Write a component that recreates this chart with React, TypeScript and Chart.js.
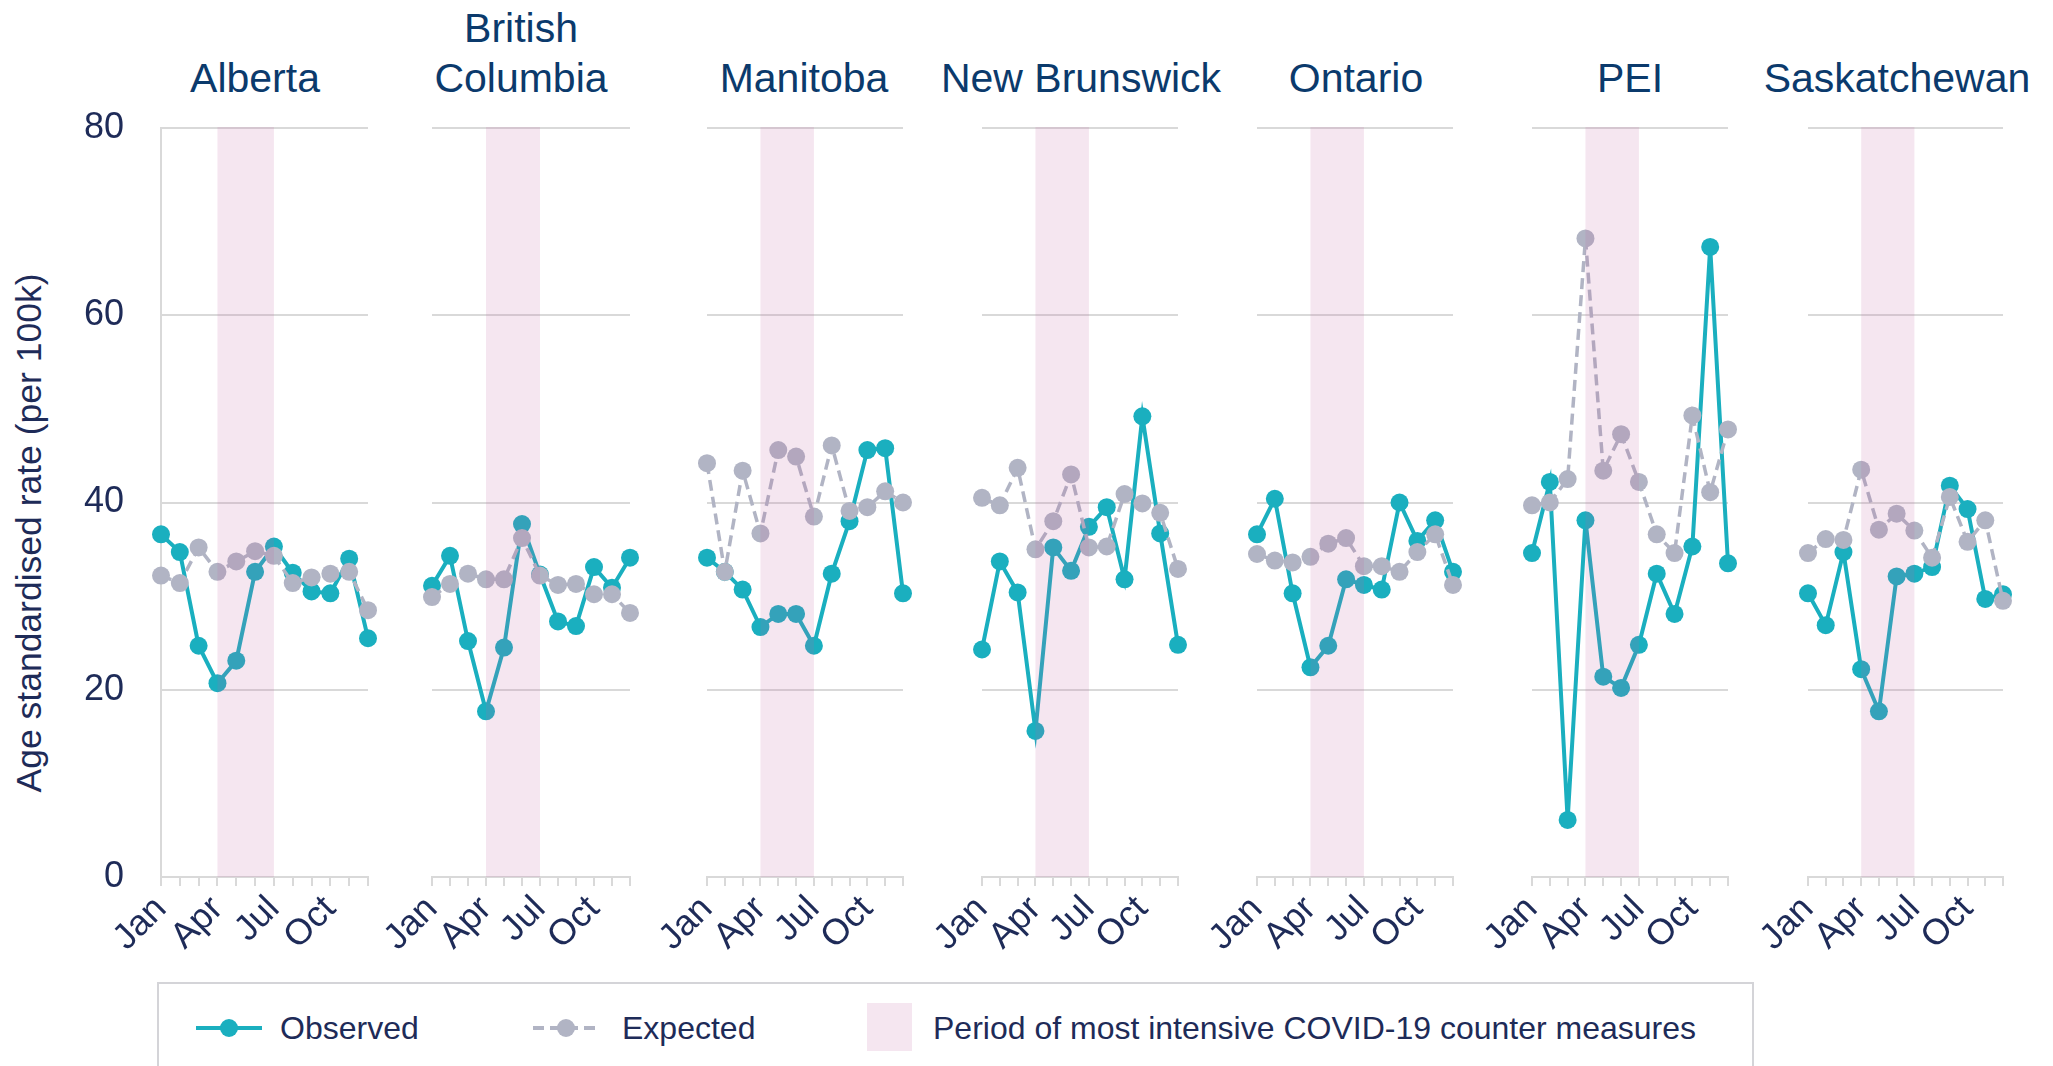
import React, { useEffect, useRef } from "react";
import { Chart, registerables } from "chart.js";

Chart.register(...registerables);

const MONTHS = ["Jan", "Feb", "Mar", "Apr", "May", "Jun", "Jul", "Aug", "Sep", "Oct", "Nov", "Dec"];
const TICK_LABELS = ["Jan", "Apr", "Jul", "Oct"];
const BAND_MONTHS = ["Apr", "Jul"];
const Y_MIN = 0;
const Y_MAX = 80;
const Y_STEP = 20;

const PROVINCES = ["Alberta", "British Columbia", "Manitoba", "New Brunswick", "Ontario", "PEI", "Saskatchewan"];

const albertaObserved = [36.6, 34.7, 24.7, 20.7, 23.1, 32.6, 35.3, 32.5, 30.5, 30.3, 34.0, 25.5];
const albertaExpected = [32.2, 31.4, 35.2, 32.6, 33.7, 34.8, 34.3, 31.4, 32.0, 32.4, 32.6, 28.5];
const bcObserved = [31.1, 34.3, 25.2, 17.7, 24.5, 37.7, 32.3, 27.3, 26.8, 33.1, 30.9, 34.1];
const bcExpected = [29.9, 31.3, 32.4, 31.8, 31.8, 36.2, 32.2, 31.2, 31.3, 30.2, 30.2, 28.2];
const manitobaObserved = [34.1, 32.6, 30.7, 26.7, 28.1, 28.1, 24.7, 32.4, 38.0, 45.6, 45.8, 30.3];
const manitobaExpected = [44.2, 32.6, 43.4, 36.7, 45.6, 44.9, 38.5, 46.1, 39.1, 39.5, 41.2, 40.0];
const nbObserved = [24.3, 33.7, 30.4, 15.6, 35.2, 32.7, 37.4, 39.5, 31.8, 49.2, 36.7, 24.8];
const nbExpected = [40.5, 39.7, 43.7, 35.0, 38.0, 43.0, 35.2, 35.3, 40.9, 39.9, 38.9, 32.9];
const ontarioObserved = [36.6, 40.4, 30.3, 22.4, 24.7, 31.8, 31.2, 30.7, 40.0, 35.9, 38.1, 32.6];
const ontarioExpected = [34.5, 33.8, 33.6, 34.2, 35.6, 36.2, 33.2, 33.2, 32.6, 34.7, 36.6, 31.2];
const peiObserved = [34.6, 42.2, 6.1, 38.1, 21.4, 20.2, 24.8, 32.4, 28.1, 35.3, 67.3, 33.5];
const peiExpected = [39.7, 40.0, 42.5, 68.2, 43.4, 47.3, 42.2, 36.6, 34.6, 49.3, 41.1, 47.8];
const saskObserved = [30.3, 26.9, 34.7, 22.2, 17.7, 32.1, 32.4, 33.1, 41.8, 39.3, 29.7, 30.2];
const saskExpected = [34.6, 36.1, 36.0, 43.5, 37.1, 38.8, 37.0, 34.1, 40.6, 35.8, 38.1, 29.5];

const OBSERVED = [albertaObserved, bcObserved, manitobaObserved, nbObserved, ontarioObserved, peiObserved, saskObserved];
const EXPECTED = [albertaExpected, bcExpected, manitobaExpected, nbExpected, ontarioExpected, peiExpected, saskExpected];

// layout (pixels)
const AREA_LEFT = [161, 432, 707, 982, 1257, 1532, 1808];
const AREA_RIGHT = [368, 630, 903, 1178, 1453, 1728, 2003];
const TITLE_CENTER = [255, 521, 804, 1081, 1356, 1630, 1897];
const AREA_TOP = 128;
const AREA_BOTTOM = 877;
const CANVAS_H = 975;
const RIGHT_PAD = 16;
const OTHER_Y_W = 62;

const TEAL = "#1aafbf";
const GREY = "#b1b4c4";
const GRID = "#d9d9d9";
const NAVY = "#1e2b58";
const TITLE_BLUE = "#0b3a6c";
const FONT = "'Liberation Sans', Arial, sans-serif";

const bandPlugin = {
  id: "band",
  afterDatasetsDraw(chart: any) {
    const { ctx, scales } = chart;
    const x = scales.x;
    const y = scales.y;
    const x0 = x.getPixelForValue(MONTHS.indexOf(BAND_MONTHS[0]));
    const x1 = x.getPixelForValue(MONTHS.indexOf(BAND_MONTHS[1]));
    const y0 = y.getPixelForValue(Y_MAX);
    const y1 = y.getPixelForValue(Y_MIN);
    ctx.save();
    ctx.fillStyle = "rgba(193,99,161,0.16)";
    ctx.fillRect(x0, y0 - 1, x1 - x0, y1 - y0 + 1);
    ctx.restore();
  },
};

function Panel({ index }: { index: number }) {
  const ref = useRef<HTMLCanvasElement | null>(null);
  const first = index === 0;
  const yW = first ? AREA_LEFT[0] : OTHER_Y_W;
  const left = AREA_LEFT[index] - yW;
  const width = AREA_RIGHT[index] - AREA_LEFT[index] + yW + RIGHT_PAD;

  useEffect(() => {
    if (!ref.current) return;
    const chart = new Chart(ref.current, {
      type: "line",
      data: {
        labels: MONTHS,
        datasets: [
          {
            label: "Expected",
            data: EXPECTED[index],
            borderColor: GREY,
            backgroundColor: GREY,
            pointBackgroundColor: GREY,
            borderDash: [11, 6],
            borderWidth: 3.5,
            pointRadius: 9,
            pointHoverRadius: 9,
            pointBorderWidth: 0,
            tension: 0,
            clip: false,
            order: 0,
          },
          {
            label: "Observed",
            data: OBSERVED[index],
            borderColor: TEAL,
            backgroundColor: TEAL,
            pointBackgroundColor: TEAL,
            borderWidth: 4,
            pointRadius: 9,
            pointHoverRadius: 9,
            pointBorderWidth: 0,
            tension: 0,
            clip: false,
            order: 1,
          },
        ],
      },
      options: {
        animation: false,
        responsive: false,
        events: [],
        layout: { padding: { top: AREA_TOP, right: RIGHT_PAD, left: 0, bottom: 0 } },
        plugins: { legend: { display: false }, tooltip: { enabled: false } },
        scales: {
          x: {
            type: "category",
            offset: false,
            grid: { drawOnChartArea: false, drawTicks: true, tickLength: 9, color: GRID, lineWidth: 2 },
            border: { display: true, color: GRID, width: 2 },
            ticks: {
              autoSkip: false,
              maxRotation: 45,
              minRotation: 45,
              padding: 2,
              color: NAVY,
              font: { size: 36, family: FONT },
              callback: (_v: any, idx: number) => (TICK_LABELS.includes(MONTHS[idx]) ? MONTHS[idx] : ""),
            },
            afterFit: (s: any) => {
              s.height = CANVAS_H - AREA_BOTTOM;
              s.paddingLeft = 0;
              s.paddingRight = 0;
            },
          },
          y: {
            min: Y_MIN,
            max: Y_MAX,
            ticks: {
              stepSize: Y_STEP,
              display: first,
              padding: 37,
              color: NAVY,
              font: { size: 36, family: FONT },
            },
            grid: { color: GRID, lineWidth: 2, drawTicks: false },
            border: { display: first, color: GRID, width: 2 },
            afterFit: (s: any) => {
              s.width = yW;
              s.paddingTop = 0;
              s.paddingBottom = 0;
            },
          },
        },
      } as any,
      plugins: [bandPlugin],
    });
    return () => chart.destroy();
  }, [index]);

  return (
    <canvas
      ref={ref}
      width={width}
      height={CANVAS_H}
      style={{ position: "absolute", left, top: 0, width, height: CANVAS_H }}
    />
  );
}

export default function App() {
  return (
    <div
      style={{
        position: "absolute",
        left: 0,
        top: 0,
        width: 2053,
        height: 1066,
        overflow: "hidden",
        background: "#ffffff",
        fontFamily: FONT,
      }}
    >
      {PROVINCES.map((p, i) => {
        const lines = p === "British Columbia" ? ["British", "Columbia"] : [p];
        return (
          <div
            key={"t" + i}
            style={{
              position: "absolute",
              left: TITLE_CENTER[i] - 200,
              width: 400,
              top: 53 - (lines.length - 1) * 50,
              textAlign: "center",
              fontSize: 41,
              lineHeight: "50px",
              color: TITLE_BLUE,
              whiteSpace: "nowrap",
            }}
          >
            {lines.map((l, k) => (
              <div key={k}>{l}</div>
            ))}
          </div>
        );
      })}
      <div
        style={{
          position: "absolute",
          left: 29 - 320,
          top: 533 - 22,
          width: 640,
          height: 44,
          lineHeight: "44px",
          textAlign: "center",
          fontSize: 35.5,
          color: NAVY,
          transform: "rotate(-90deg)",
          whiteSpace: "nowrap",
        }}
      >
        Age standardised rate (per 100k)
      </div>
      {PROVINCES.map((p, i) => (
        <Panel key={p} index={i} />
      ))}
      <div
        style={{
          position: "absolute",
          left: 157,
          top: 982,
          width: 1597,
          height: 120,
          border: "2px solid #d4d4d8",
          boxSizing: "border-box",
        }}
      />
      <svg style={{ position: "absolute", left: 196, top: 1013 }} width={68} height={30}>
        <line x1={0} y1={15} x2={66} y2={15} stroke={TEAL} strokeWidth={4} />
        <circle cx={33} cy={15} r={9} fill={TEAL} />
      </svg>
      <div style={{ position: "absolute", left: 280, top: 1008, fontSize: 32, lineHeight: "40px", color: NAVY }}>
        Observed
      </div>
      <svg style={{ position: "absolute", left: 533, top: 1013 }} width={68} height={30}>
        <line x1={0} y1={15} x2={66} y2={15} stroke={GREY} strokeWidth={4} strokeDasharray="11 6" />
        <circle cx={33} cy={15} r={9} fill={GREY} />
      </svg>
      <div style={{ position: "absolute", left: 622, top: 1008, fontSize: 32, lineHeight: "40px", color: NAVY }}>
        Expected
      </div>
      <div
        style={{
          position: "absolute",
          left: 867,
          top: 1003,
          width: 45,
          height: 48,
          background: "#f5e6f0",
        }}
      />
      <div style={{ position: "absolute", left: 933, top: 1008, fontSize: 32, lineHeight: "40px", color: NAVY, whiteSpace: "nowrap" }}>
        Period of most intensive COVID-19 counter measures
      </div>
    </div>
  );
}
